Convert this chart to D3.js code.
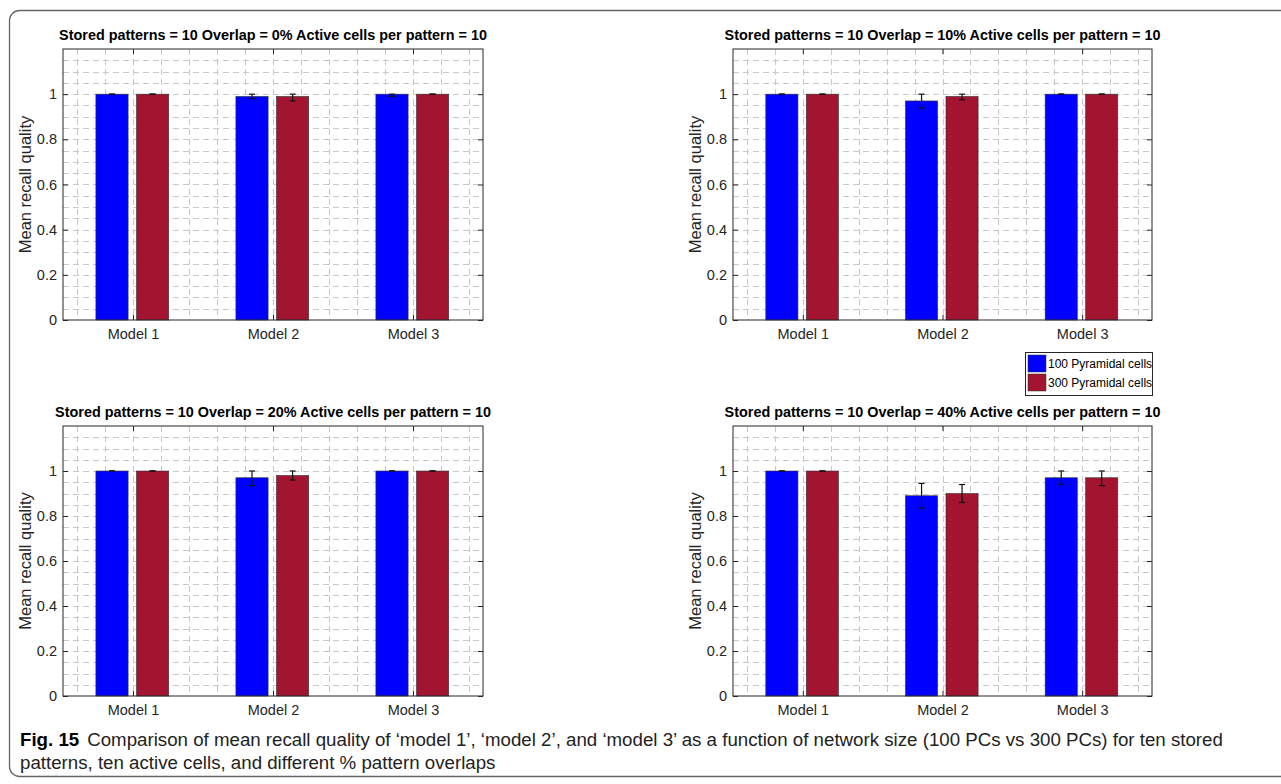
<!DOCTYPE html>
<html>
<head>
<meta charset="utf-8">
<script src="https://cdn.jsdelivr.net/npm/d3@7"></script>
<style>
  body { margin: 0; background: #fff; }
  svg { display: block; }
</style>
</head>
<body>
<script>
// data
var models = ["Model 1", "Model 2", "Model 3"];
var seriesNames = ["100 Pyramidal cells", "300 Pyramidal cells"];
var overlaps = ["0%", "10%", "20%", "40%"];
var yTicks = [0, 0.2, 0.4, 0.6, 0.8, 1];

// mean recall quality, one array per overlap, [100 PCs, 300 PCs] per model
var mean0 = [[1, 1], [0.99, 0.99], [1, 1]];
var err0 = [[0, 0], [0.01, 0.02], [0.01, 0]];
var mean10 = [[1, 1], [0.97, 0.99], [1, 1]];
var err10 = [[0, 0], [0.03, 0.015], [0, 0]];
var mean20 = [[1, 1], [0.97, 0.98], [1, 1]];
var err20 = [[0, 0], [0.035, 0.02], [0, 0]];
var mean40 = [[1, 1], [0.89, 0.90], [0.97, 0.97]];
var err40 = [[0, 0], [0.055, 0.04], [0.03, 0.035]];

var panels = [
  {overlap: overlaps[0], mean: mean0, err: err0, x0: 63, x1: 483, y0: 49, y1: 320},
  {overlap: overlaps[1], mean: mean10, err: err10, x0: 733, x1: 1152, y0: 49, y1: 320},
  {overlap: overlaps[2], mean: mean20, err: err20, x0: 63, x1: 483, y0: 426, y1: 696},
  {overlap: overlaps[3], mean: mean40, err: err40, x0: 733, x1: 1152, y0: 426, y1: 696}
];

var colors = ["#0000ff", "#a2142f"];
var offsets = [-0.15, 0.14];
var barW = 0.23;
var textCol = "#262626";
var sans = "'Liberation Sans', Arial, sans-serif";

var width = 1281, height = 784;

var svg = d3.select("body").append("svg")
    .attr("width", width)
    .attr("height", height);

// figure frame
svg.append("rect")
    .attr("x", 9.5).attr("y", 10.5)
    .attr("width", 1290).attr("height", 766)
    .attr("rx", 10).attr("ry", 10)
    .attr("fill", "none")
    .attr("stroke", "#666")
    .attr("stroke-width", 1.3);

panels.forEach(function(p) {
    var x = d3.scaleLinear().domain([0.5, 3.5]).range([p.x0, p.x1]);
    var y = d3.scaleLinear().domain([0, 1.2]).range([p.y1, p.y0]);
    var g = svg.append("g");

    // grid (MATLAB style minor grid, dashed)
    var minorX = d3.range(0.6, 3.45, 0.2);
    var minorY = d3.range(0.05, 1.2, 0.05);
    g.selectAll(".gx").data(minorX).enter().append("line")
        .attr("x1", function(d) { return Math.round(x(d)) + 0.5; })
        .attr("x2", function(d) { return Math.round(x(d)) + 0.5; })
        .attr("y1", p.y0).attr("y2", p.y1)
        .attr("stroke", "#c8c8c8").attr("stroke-dasharray", "6,4");
    g.selectAll(".gy").data(minorY).enter().append("line")
        .attr("y1", function(d) { return Math.round(y(d)) + 0.5; })
        .attr("y2", function(d) { return Math.round(y(d)) + 0.5; })
        .attr("x1", p.x0).attr("x2", p.x1)
        .attr("stroke", "#c8c8c8").attr("stroke-dasharray", "6,4");

    // bars + error bars
    p.mean.forEach(function(pair, i) {
        pair.forEach(function(v, s) {
            var cx = i + 1 + offsets[s];
            g.append("rect")
                .attr("x", x(cx - barW / 2))
                .attr("width", x(cx + barW / 2) - x(cx - barW / 2))
                .attr("y", y(v))
                .attr("height", y(0) - y(v))
                .attr("fill", colors[s])
                .attr("stroke", "#333")
                .attr("stroke-width", 0.6);
            var e = p.err[i][s];
            var ex = x(cx);
            var top = y(Math.min(1, v + e)), bot = y(v - e);
            var eg = g.append("g").attr("stroke", "#111").attr("stroke-width", 1.2);
            eg.append("line").attr("x1", ex).attr("x2", ex).attr("y1", top).attr("y2", bot);
            eg.append("line").attr("x1", ex - 3).attr("x2", ex + 3).attr("y1", top).attr("y2", top);
            eg.append("line").attr("x1", ex - 3).attr("x2", ex + 3).attr("y1", bot).attr("y2", bot);
        });
    });

    // axes
    var yAxis = d3.axisLeft(y).tickValues(yTicks).tickSizeInner(-5).tickSizeOuter(0)
        .tickPadding(6).tickFormat(d3.format("~g"));
    var yAxisR = d3.axisRight(y).tickValues(yTicks).tickSizeInner(-5).tickSizeOuter(0)
        .tickFormat("");
    var xAxis = d3.axisBottom(x).tickValues([1, 2, 3]).tickSizeInner(-5).tickSizeOuter(0)
        .tickPadding(9).tickFormat(function(d) { return models[d - 1]; });
    var xAxisT = d3.axisTop(x).tickValues([1, 2, 3]).tickSizeInner(-5).tickSizeOuter(0)
        .tickFormat("");

    [[yAxis, "translate(" + p.x0 + ",0)"], [yAxisR, "translate(" + p.x1 + ",0)"],
     [xAxis, "translate(0," + p.y1 + ")"], [xAxisT, "translate(0," + p.y0 + ")"]].forEach(function(a) {
        var ag = g.append("g").attr("transform", a[1]).call(a[0]);
        ag.select(".domain").remove();
        ag.selectAll("line").attr("stroke", textCol);
        ag.selectAll("text")
            .attr("fill", textCol)
            .style("font-family", sans)
            .style("font-size", "14.5px");
    });

    g.append("rect")
        .attr("x", p.x0).attr("y", p.y0)
        .attr("width", p.x1 - p.x0).attr("height", p.y1 - p.y0)
        .attr("fill", "none").attr("stroke", textCol).attr("stroke-width", 1);

    // y label
    g.append("text")
        .attr("transform", "translate(" + (p.x0 - 32) + "," + ((p.y0 + p.y1) / 2) + ") rotate(-90)")
        .attr("text-anchor", "middle")
        .attr("fill", textCol)
        .style("font-family", sans)
        .style("font-size", "16.5px")
        .text("Mean recall quality");

    // title
    g.append("text")
        .attr("x", (p.x0 + p.x1) / 2)
        .attr("y", p.y0 - 9)
        .attr("text-anchor", "middle")
        .attr("fill", "#000")
        .style("font-family", sans)
        .style("font-weight", "bold")
        .style("font-size", "14.4px")
        .text("Stored patterns = 10 Overlap = " + p.overlap + " Active cells per pattern = 10");
});

// legend
var leg = svg.append("g").attr("transform", "translate(1025,352)");
leg.append("rect").attr("x", 0.5).attr("y", 0.5).attr("width", 127).attr("height", 43)
    .attr("fill", "#fff").attr("stroke", textCol);
seriesNames.forEach(function(n, s) {
    leg.append("rect").attr("x", 3).attr("y", 3 + s * 19).attr("width", 18).attr("height", 17)
        .attr("fill", colors[s]).attr("stroke", "#333").attr("stroke-width", 0.5);
    leg.append("text").attr("x", 23).attr("y", 16 + s * 19)
        .attr("fill", "#000")
        .style("font-family", sans)
        .style("font-size", "12px")
        .text(n);
});

// caption
var cap = svg.append("text").attr("x", 20).attr("y", 746)
    .style("font-family", sans)
    .style("font-size", "18.7px")
    .attr("fill", "#222");
cap.append("tspan").style("font-weight", "bold").attr("fill", "#000").text("Fig. 15");
cap.append("tspan").attr("dx", 8)
    .text("Comparison of mean recall quality of \u2018model 1\u2019, \u2018model 2\u2019, and \u2018model 3\u2019 as a function of network size (100 PCs vs 300 PCs) for ten stored");
svg.append("text").attr("x", 20).attr("y", 769)
    .style("font-family", sans)
    .style("font-size", "18.7px")
    .attr("fill", "#222")
    .text("patterns, ten active cells, and different % pattern overlaps");
</script>
</body>
</html>
